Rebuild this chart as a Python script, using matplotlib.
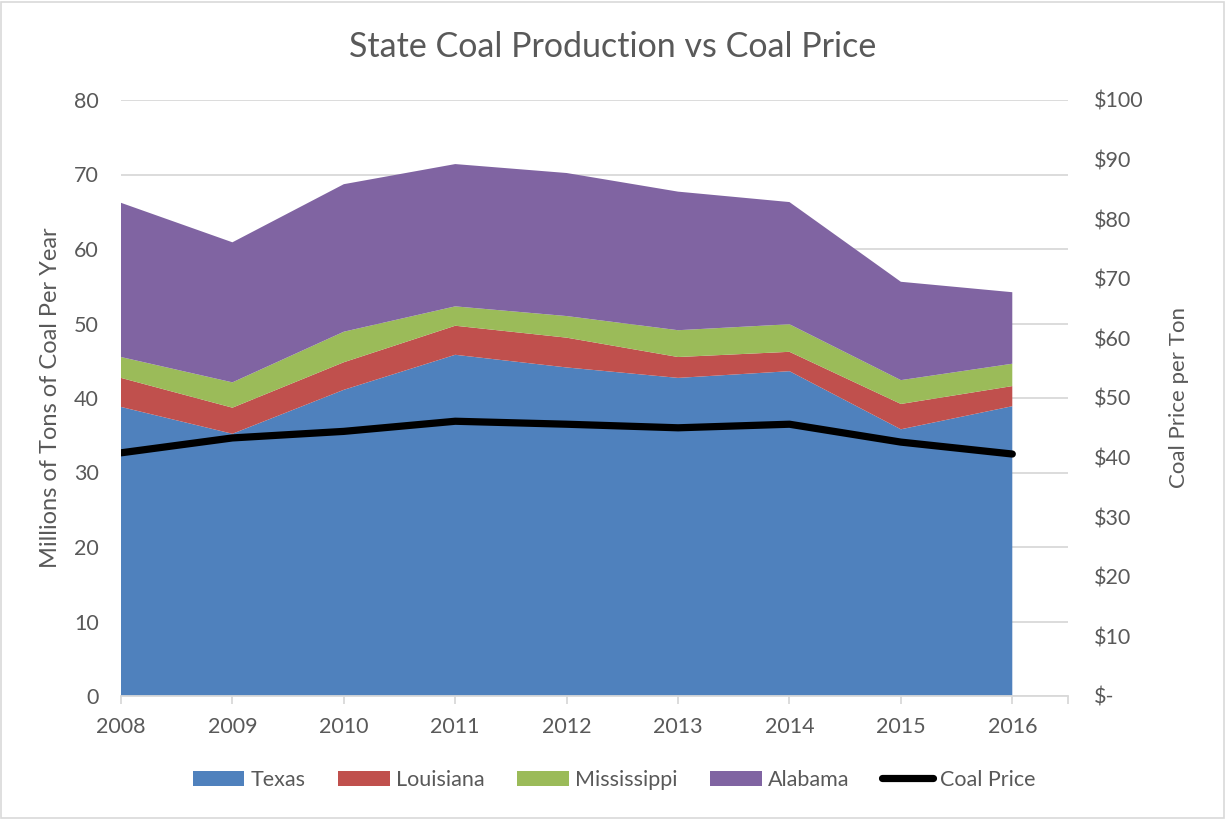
import matplotlib
matplotlib.use("Agg")
import matplotlib.pyplot as plt
from matplotlib.patches import Rectangle, Patch
from matplotlib.lines import Line2D
from matplotlib.ticker import FuncFormatter

plt.rcParams['font.family'] = ['Lato', 'DejaVu Sans']

years = [2008, 2009, 2010, 2011, 2012, 2013, 2014, 2015, 2016]
texas = [38.8, 35.2, 41.1, 45.8, 44.1, 42.7, 43.6, 35.8, 38.9]
louisiana = [3.9, 3.5, 3.7, 3.9, 4.0, 2.8, 2.6, 3.4, 2.7]
mississippi = [2.8, 3.4, 4.1, 2.6, 2.9, 3.6, 3.7, 3.2, 3.0]
alabama = [20.7, 18.8, 19.8, 19.1, 19.2, 18.6, 16.4, 13.2, 9.6]
coal_price = [40.8, 43.3, 44.4, 46.1, 45.6, 45.0, 45.6, 42.6, 40.6]

series_names = ["Texas", "Louisiana", "Mississippi", "Alabama"]
colors = ["#4F81BD", "#C0504D", "#9BBB59", "#8064A2"]
text_color = "#595959"
grid_color = "#D9D9D9"

fig = plt.figure(figsize=(12.25, 8.19), dpi=100)
ax = fig.add_axes([121/1225, 1 - 696/819, (1068-121)/1225, (696-100)/819])

ax.stackplot(years, texas, louisiana, mississippi, alabama, colors=colors,
             labels=series_names, zorder=2, linewidth=0)
ax.set_xlim(2008, 2016.5)
ax.set_ylim(0, 80)
ax.set_yticks(range(0, 81, 10))
ax.yaxis.grid(True, color=grid_color, linewidth=1.3, zorder=0)
ax.set_axisbelow(True)
ax.set_xticks(years + [2016.5])
ax.set_xticklabels([str(y) for y in years] + [""])
for s in ["top", "right", "left"]:
    ax.spines[s].set_visible(False)
ax.spines["bottom"].set_color(grid_color)
ax.spines["bottom"].set_linewidth(1.3)
ax.spines["bottom"].set_zorder(3)
ax.tick_params(axis="x", colors=grid_color, length=6, width=1.3, direction="out",
               labelcolor=text_color, labelsize=15.5, pad=9)
ax.tick_params(axis="y", length=0, labelcolor=text_color, labelsize=15.5, pad=16)
ax.set_ylabel("Millions of Tons of Coal Per Year", color=text_color, fontsize=17, labelpad=9)

ax2 = ax.twinx()
ax2.plot(years, coal_price, color="black", linewidth=5.2, solid_capstyle="round",
         solid_joinstyle="round", zorder=5)
ax2.set_ylim(0, 100)
ax2.set_yticks(range(0, 101, 10))
ax2.yaxis.set_major_formatter(FuncFormatter(lambda v, p: "$-" if v == 0 else f"${int(v)}"))
for s in ["top", "right", "left", "bottom"]:
    ax2.spines[s].set_visible(False)
ax2.tick_params(axis="y", length=0, labelcolor=text_color, labelsize=15.5, pad=19)
ax2.set_ylabel("Coal Price per Ton", color=text_color, fontsize=16, labelpad=18)

fig.text(0.5, 1 - 47/819, "State Coal Production vs Coal Price", ha="center", va="center",
         fontsize=24.5, color=text_color)

handles = [Patch(facecolor=c, edgecolor="none") for c in colors]
handles.append(Line2D([0], [0], color="black", linewidth=5.2, solid_capstyle="round"))
leg = fig.legend(handles, series_names + ["Coal Price"], loc="center",
                 bbox_to_anchor=(614/1225, 1 - 780/819), ncol=5, frameon=False,
                 fontsize=15.5, handlelength=2.4, handleheight=0.75, handletextpad=0.3,
                 columnspacing=1.5, labelcolor=text_color)

fig.patches.append(Rectangle((0.0008, 0.001), 0.9984, 0.997, transform=fig.transFigure,
                             fill=False, edgecolor=grid_color, linewidth=1.2))

fig.savefig("out.png", dpi=100)
